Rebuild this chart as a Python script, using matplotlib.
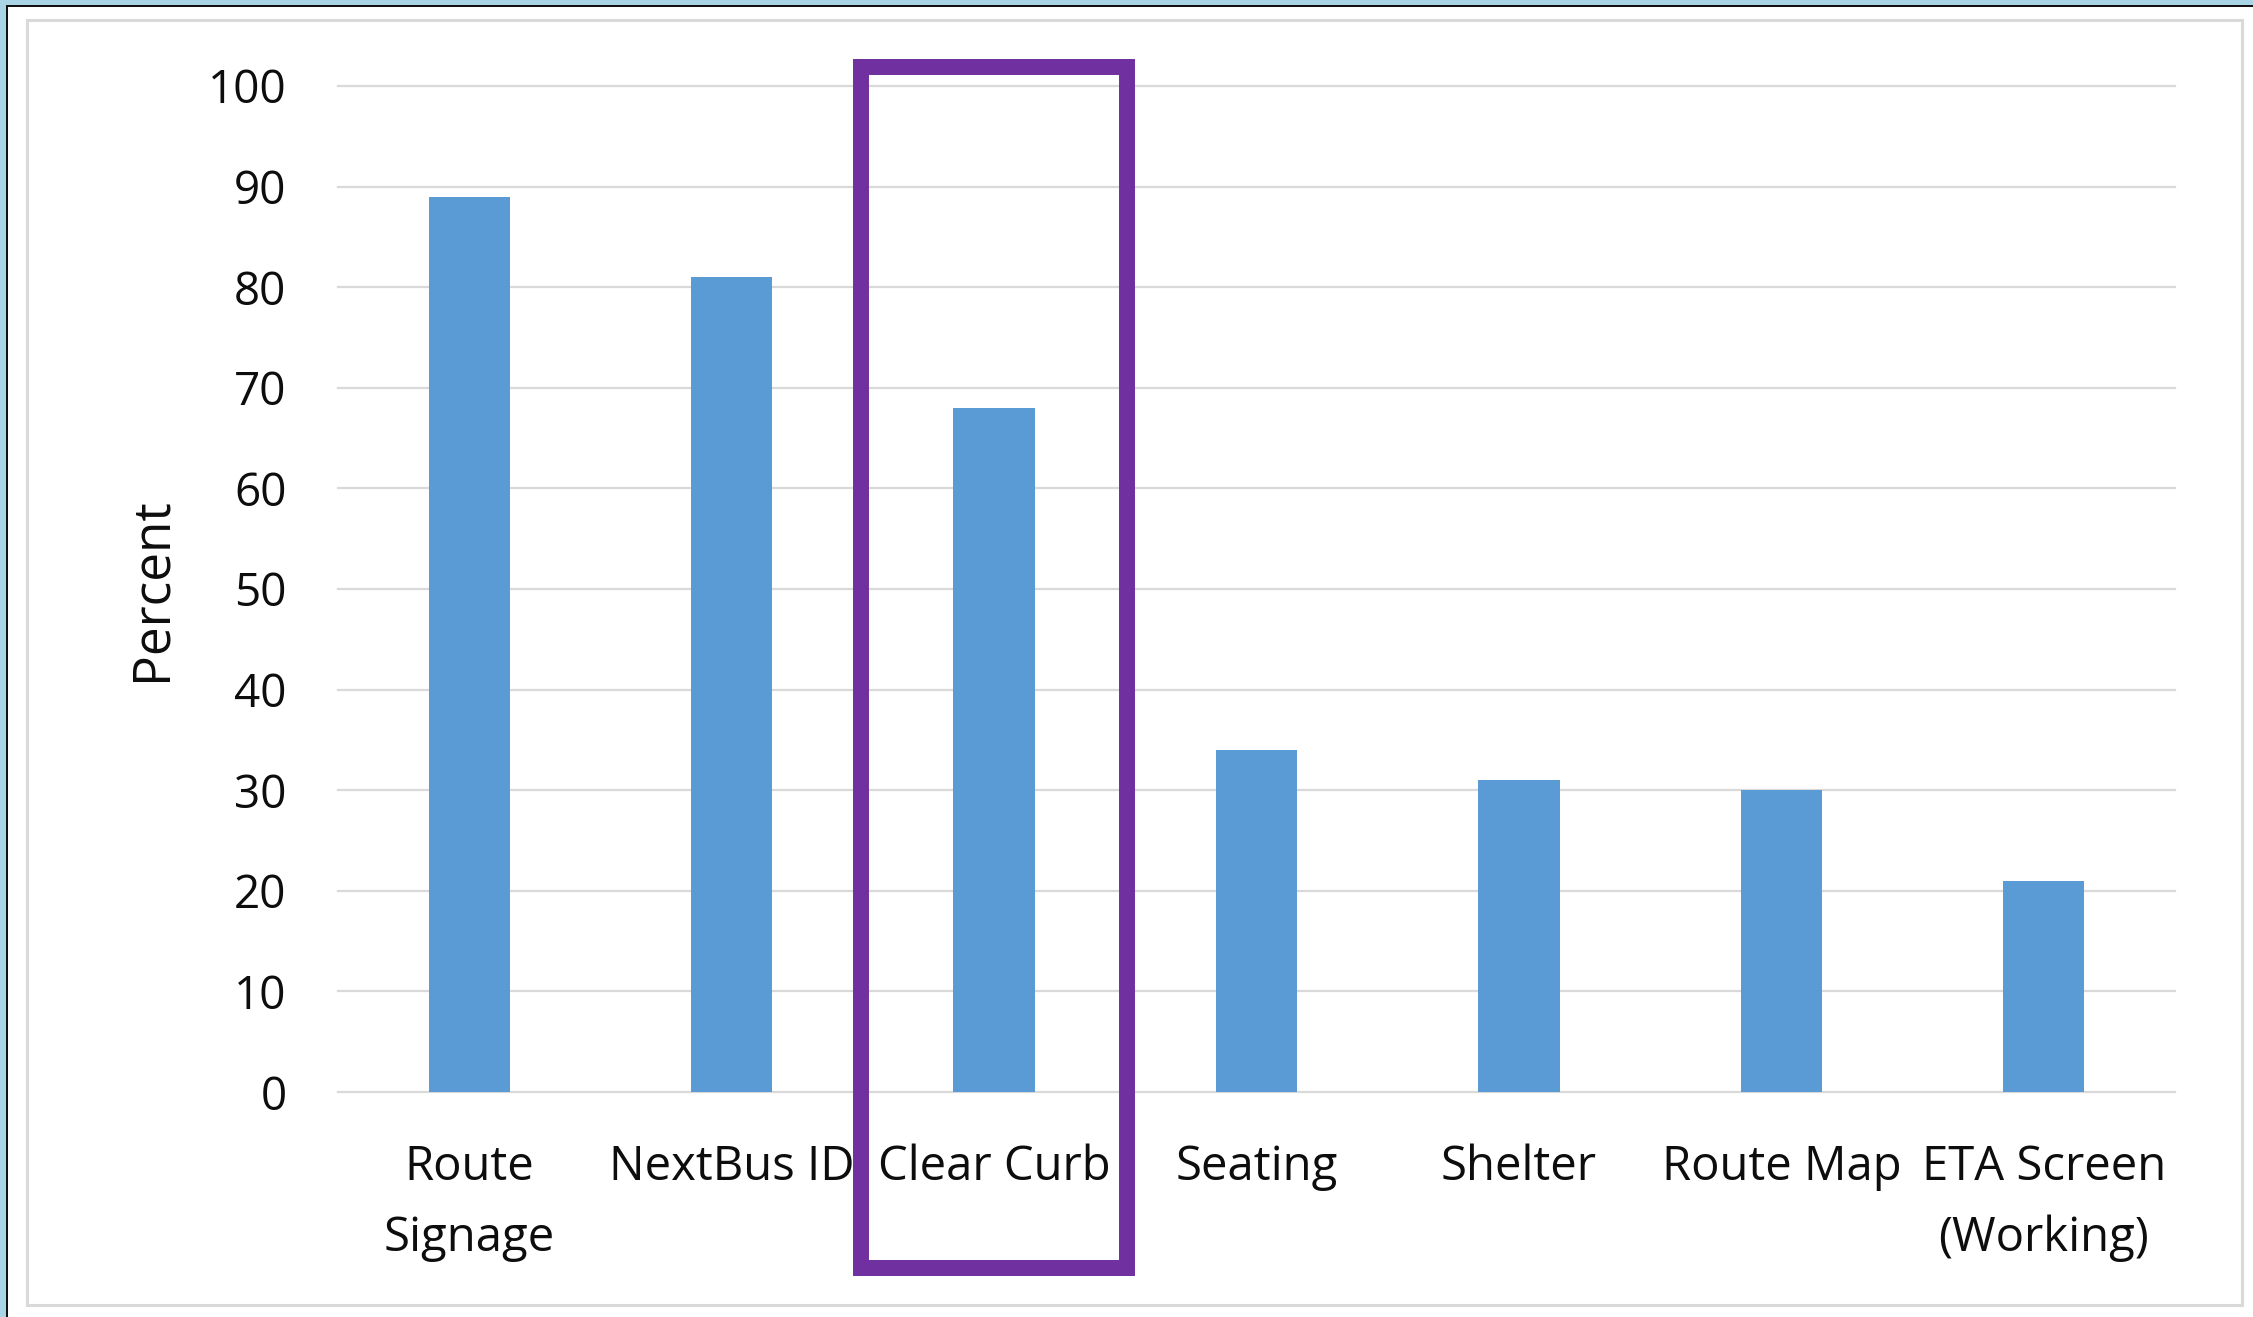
import matplotlib
matplotlib.use("Agg")
import matplotlib.pyplot as plt
from matplotlib.patches import Rectangle
import numpy as np

# --- data ---
categories = ["Route\nSignage", "NextBus ID", "Clear Curb", "Seating",
              "Shelter", "Route Map", "ETA Screen\n(Working)"]
percent = [89, 81, 68, 34, 31, 30, 21]
y_ticks = [0, 10, 20, 30, 40, 50, 60, 70, 80, 90, 100]
highlight = "Clear Curb"

W, H = 2253, 1317
BAR_BLUE = "#5b9bd5"
GRID = "#d9d9d9"
PURPLE = "#7030a0"
TEXT = "#0d0d0d"

plt.rcParams["font.family"] = ["Open Sans", "DejaVu Sans"]

fig = plt.figure(figsize=(W / 100, H / 100), dpi=100)
fig.patch.set_facecolor("white")

def fx(px):
    return px / W

def fy(py):
    return 1 - py / H

# --- screenshot frame: light blue strip + dark line on top/left, grey chart border ---
fig.patches.append(Rectangle((0, fy(6)), 1, 6 / H, transform=fig.transFigure,
                             facecolor="#a8d4e6", edgecolor="none", zorder=0))
fig.patches.append(Rectangle((0, 0), 6 / W, 1, transform=fig.transFigure,
                             facecolor="#a8d4e6", edgecolor="none", zorder=0))
fig.patches.append(Rectangle((fx(6), 0), 2 / W, fy(6), transform=fig.transFigure,
                             facecolor="#111111", edgecolor="none", zorder=0))
fig.patches.append(Rectangle((fx(6), fy(7)), 1, 2 / H, transform=fig.transFigure,
                             facecolor="#111111", edgecolor="none", zorder=0))
fig.patches.append(Rectangle((fx(27), fy(1305)), (2242 - 27) / W, (1305 - 20) / H,
                             transform=fig.transFigure, facecolor="none",
                             edgecolor=GRID, linewidth=2.2, zorder=0))

# --- axes ---
left, right, top, bottom = 338, 2175, 86, 1092
ax = fig.add_axes([fx(left), fy(bottom), (right - left) / W, (bottom - top) / H])
ax.set_facecolor("none")

x = np.arange(len(categories))
ax.bar(x, percent, width=0.31, color=BAR_BLUE, zorder=3)

ax.set_xlim(-0.5, len(categories) - 0.5)
ax.set_ylim(0, 100)
ax.set_yticks(y_ticks)
ax.set_xticks(x)
ax.set_xticklabels(categories, fontsize=34, color=TEXT, linespacing=1.65)
ax.tick_params(axis="x", length=0, pad=37)
ax.tick_params(axis="y", length=0, pad=37, labelsize=33, labelcolor=TEXT)

for s in ax.spines.values():
    s.set_visible(False)
ax.yaxis.grid(True, color=GRID, linewidth=1.6, zorder=0)
ax.set_axisbelow(True)
for gl in ax.get_ygridlines():
    gl.set_clip_on(False)

ax.set_ylabel("Percent", fontsize=37, color=TEXT, labelpad=22)

# --- purple highlight box around the chosen category ---
hi = categories.index(highlight)
ax.add_patch(Rectangle((hi - 0.508, -17.5), 1.016, 119.4, fill=False,
                       edgecolor=PURPLE, linewidth=11.5, joinstyle="miter",
                       clip_on=False, zorder=5))

fig.savefig("out.png", dpi=100, facecolor=fig.get_facecolor())
